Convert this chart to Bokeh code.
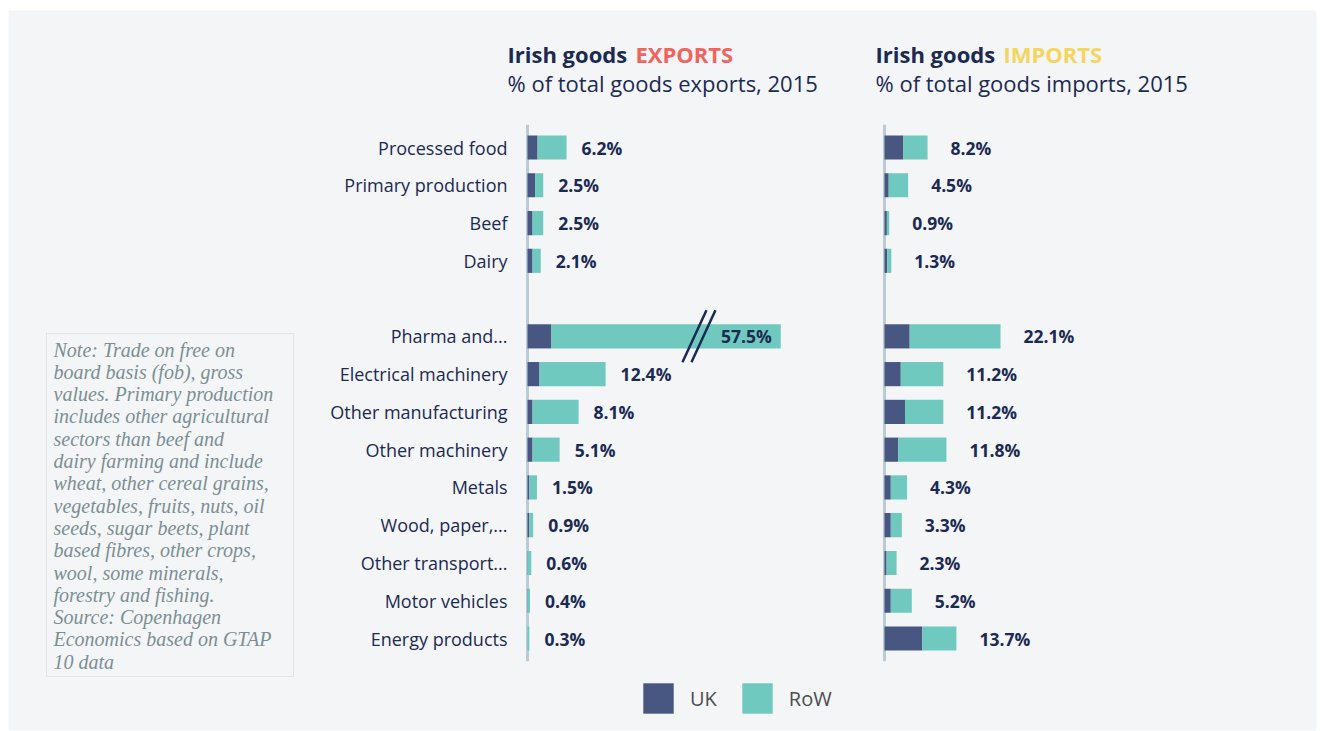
from bokeh.plotting import figure
from bokeh.models import Range1d, ColumnDataSource, Label, Legend, LegendItem, BoxAnnotation
from bokeh.core.properties import value
from bokeh.embed import file_html
from bokeh.resources import INLINE

# ---------------- data ----------------
categories = ["Processed food", "Primary production", "Beef", "Dairy",
              "Pharma and...", "Electrical machinery", "Other manufacturing",
              "Other machinery", "Metals", "Wood, paper,...", "Other transport...",
              "Motor vehicles", "Energy products"]
export_total = [6.2, 2.5, 2.5, 2.1, 57.5, 12.4, 8.1, 5.1, 1.5, 0.9, 0.6, 0.4, 0.3]
export_uk = [1.6, 1.2, 0.8, 0.8, 3.8, 1.9, 0.8, 0.8, 0.3, 0.3, 0.05, 0.05, 0.02]
import_total = [8.2, 4.5, 0.9, 1.3, 22.1, 11.2, 11.2, 11.8, 4.3, 3.3, 2.3, 5.2, 13.7]
import_uk = [3.6, 0.8, 0.45, 0.5, 4.8, 3.1, 3.9, 2.6, 1.2, 1.2, 0.4, 1.2, 7.2]
series = ["UK", "RoW"]

# ---------------- style / layout ----------------
W, H = 1308, 720                   # grey panel (plot frame)
ML, MT = 8, 10                     # white margins around the panel
BG = "#f4f5f7"
NAVY = "#1b2a52"
UK_C = "#475782"
ROW_C = "#6fc9be"
AXIS_C = "#bccbd3"
FONT = "Open Sans"
EXP_ORIGIN, EXP_PX = 519, 6.3      # px from frame left, px per %
IMP_ORIGIN, IMP_PX = 876, 5.25
ROW0, ROW_STEP = 137, 37.77        # px from frame top of first row, px per row
EXP_BREAK = 40.2                   # displayed cap of broken bar
BREAK_MARK = 26.5

# row positions: a blank slot after the four agri-food rows
ypos = [i if i < 4 else i + 1 for i in range(len(categories))]

p = figure(width=W + 2 * ML, height=H + MT + 1, output_backend="svg",
           toolbar_location=None, x_axis_location=None, y_axis_location=None,
           min_border_left=ML, min_border_right=ML, min_border_top=MT,
           min_border_bottom=1,
           background_fill_color=BG, border_fill_color="white", outline_line_color=None)
p.x_range = Range1d(-EXP_ORIGIN / EXP_PX, (W - EXP_ORIGIN) / EXP_PX)
p.y_range = Range1d((H - ROW0) / ROW_STEP, -ROW0 / ROW_STEP)
p.extra_x_ranges = {"imp": Range1d(-IMP_ORIGIN / IMP_PX, (W - IMP_ORIGIN) / IMP_PX)}
p.xgrid.visible = False
p.ygrid.visible = False

exp_disp = [min(t, EXP_BREAK) for t in export_total]
exp_src = ColumnDataSource(dict(y=ypos, uk=export_uk, tot=exp_disp,
                                lab=[f"{v}%" for v in export_total],
                                cat=categories))
imp_src = ColumnDataSource(dict(y=ypos, uk=import_uk, tot=import_total,
                                lab=[f"{v}%" for v in import_total]))

BH = 0.64
# axis lines
top_y, bot_y = -0.6, len(categories) + 0.6
p.segment(x0=[0], x1=[0], y0=[top_y], y1=[bot_y], line_color=AXIS_C, line_width=3)
p.segment(x0=[0], x1=[0], y0=[top_y], y1=[bot_y], line_color=AXIS_C, line_width=3,
          x_range_name="imp")

r_uk = p.hbar(y="y", left=0, right="uk", height=BH, source=exp_src,
              fill_color=UK_C, line_color=None)
r_row = p.hbar(y="y", left="uk", right="tot", height=BH, source=exp_src,
               fill_color=ROW_C, line_color=None)
p.hbar(y="y", left=0, right="uk", height=BH, source=imp_src,
       fill_color=UK_C, line_color=None, x_range_name="imp")
p.hbar(y="y", left="uk", right="tot", height=BH, source=imp_src,
       fill_color=ROW_C, line_color=None, x_range_name="imp")

# category labels
p.text(x=0, y="y", text="cat", source=exp_src, x_offset=-20,
       text_align="right", text_baseline="middle", text_color=NAVY,
       text_font=value(FONT), text_font_size="18px")

# value labels (exports) - broken bar gets label inside
out_idx = [i for i, t in enumerate(export_total) if t <= EXP_BREAK]
in_idx = [i for i, t in enumerate(export_total) if t > EXP_BREAK]
p.text(x=[exp_disp[i] for i in out_idx], y=[ypos[i] for i in out_idx],
       text=[f"{export_total[i]}%" for i in out_idx], x_offset=15,
       text_align="left", text_baseline="middle", text_color=NAVY,
       text_font=value(FONT), text_font_size="17.5px", text_font_style="bold")
p.text(x=[exp_disp[i] for i in in_idx], y=[ypos[i] for i in in_idx],
       text=[f"{export_total[i]}%" for i in in_idx], x_offset=-9,
       text_align="right", text_baseline="middle", text_color=NAVY,
       text_font=value(FONT), text_font_size="17.5px", text_font_style="bold")
p.text(x="tot", y="y", text="lab", source=imp_src, x_offset=23,
       text_align="left", text_baseline="middle", text_color=NAVY,
       text_font=value(FONT), text_font_size="17.5px", text_font_style="bold",
       x_range_name="imp")

# axis break marks on broken bar
half_w = 12 / EXP_PX
gap = 9 / EXP_PX
hh = 26 / ROW_STEP
for i in in_idx:
    for k in range(2):
        p.segment(x0=[BREAK_MARK - half_w + k * gap], y0=[ypos[i] + hh],
                  x1=[BREAK_MARK + half_w + k * gap], y1=[ypos[i] - hh],
                  line_color=NAVY, line_width=2.5)

# titles
ty1 = -ROW0 / ROW_STEP + 43 / ROW_STEP
for rng, off, word, col, sub in [("default", -20, "EXPORTS", "#f0645f",
                                  "% of total goods exports, 2015"),
                                 ("imp", -9, "IMPORTS", "#f3d660",
                                  "% of total goods imports, 2015")]:
    kw = {} if rng == "default" else {"x_range_name": "imp"}
    p.text(x=[0], y=[ty1], text=["Irish goods"], x_offset=off, text_align="left",
           text_baseline="middle", text_color=NAVY, text_font=value(FONT),
           text_font_size="22px", text_font_style="bold", **kw)
    p.text(x=[0], y=[ty1], text=[word], x_offset=off + 128, text_align="left",
           text_baseline="middle", text_color=col, text_font=value(FONT),
           text_font_size="22px", text_font_style="bold", **kw)
    p.text(x=[0], y=[ty1 + 29 / ROW_STEP], text=[sub], x_offset=off,
           text_align="left", text_baseline="middle", text_color=NAVY,
           text_font=value(FONT), text_font_size="22px", **kw)

# note box
note_lines = ["Note: Trade on free on", "board basis (fob), gross",
              "values. Primary production", "includes other agricultural",
              "sectors than beef and", "dairy farming and include",
              "wheat, other cereal grains,", "vegetables, fruits, nuts, oil",
              "seeds, sugar beets, plant", "based fibres, other crops,",
              "wool, some minerals,", "forestry and fishing.",
              "Source: Copenhagen", "Economics based on GTAP", "10 data"]
box_l, box_t = 38, 323   # from left / top of frame
p.add_layout(BoxAnnotation(left=box_l, right=box_l + 247, top=H - box_t,
                           bottom=H - box_t - 343, left_units="screen",
                           right_units="screen", top_units="screen",
                           bottom_units="screen", fill_color=BG, fill_alpha=1,
                           line_color="#b8b8b8", line_width=1))
for j, line in enumerate(note_lines):
    p.add_layout(Label(x=box_l + 7, y=H - (box_t + 16 + j * 22.3), x_units="screen",
                       y_units="screen", text=line, text_baseline="middle",
                       text_font="Liberation Serif", text_font_style="italic",
                       text_font_size="20px", text_color="#7b8f94"))

legend = Legend(items=[LegendItem(label=series[0], renderers=[r_uk]),
                       LegendItem(label=series[1], renderers=[r_row])],
                orientation="horizontal", location=(631, 13),
                glyph_width=38, glyph_height=38, label_standoff=13, spacing=21,
                padding=0, margin=0, background_fill_alpha=0,
                border_line_color=None, label_text_font=FONT,
                label_text_font_size="20px", label_text_color="#4d4d4d",
                label_height=38)
p.add_layout(legend, "center")

open("out.html", "w").write(file_html(p, INLINE))
